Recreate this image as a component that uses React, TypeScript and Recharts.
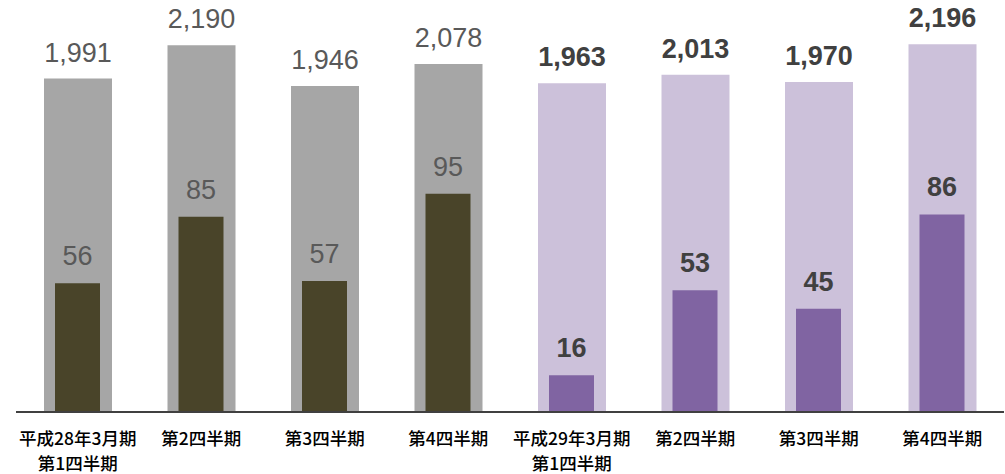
import React from "react";
import { BarChart, Bar, XAxis, YAxis, Cell, LabelList } from "recharts";

const categories = [
  "平成28年3月期\n第1四半期",
  "第2四半期",
  "第3四半期",
  "第4四半期",
  "平成29年3月期\n第1四半期",
  "第2四半期",
  "第3四半期",
  "第4四半期",
];
const totalValues = [1991, 2190, 1946, 2078, 1963, 2013, 1970, 2196];
const subValues = [56, 85, 57, 95, 16, 53, 45, 86];
const isCurrentYear = [false, false, false, false, true, true, true, true];

const data = categories.map((c, i) => ({
  key: String(i),
  label: c,
  total: totalValues[i],
  sub: subValues[i],
}));

const fmt = (v: number) => v.toLocaleString("en-US");

const makeLabel = (gap: number) => (props: any) => {
  const { x, y, width, value, index } = props;
  const cur = isCurrentYear[index];
  return (
    <text
      x={x + width / 2}
      y={y - gap}
      textAnchor="middle"
      fontFamily="'Liberation Sans', Arial, sans-serif"
      fontSize={27}
      fontWeight={cur ? 700 : 400}
      fill={cur ? "#404040" : "#595959"}
    >
      {fmt(value)}
    </text>
  );
};

const Tick = (props: any) => {
  const { x, y, payload } = props;
  const idx = Number(payload.value);
  const lines = categories[idx].split("\n");
  return (
    <g>
      {lines.map((l, i) => (
        <text
          key={i}
          x={x}
          y={y + 25 + i * 25}
          textAnchor="middle"
          fontFamily="'Noto Sans CJK JP', sans-serif"
          fontSize={17.5}
          fontWeight={500}
          fill="#000000"
        >
          {l}
        </text>
      ))}
    </g>
  );
};

export default function App() {
  return (
    <div style={{ position: "absolute", left: 0, top: 0 }}>
      <BarChart
        width={1005}
        height={474}
        data={data}
        margin={{ top: 10, right: 1, left: 16, bottom: 0 }}
      >
        <XAxis
          xAxisId="a"
          dataKey="key"
          height={62}
          tickLine={false}
          axisLine={{ stroke: "#404040", strokeWidth: 2 }}
          tick={<Tick />}
          interval={0}
        />
        <XAxis xAxisId="b" dataKey="key" hide />
        <YAxis yAxisId="left" domain={[0, 2400]} hide />
        <YAxis yAxisId="right" domain={[0, 175]} hide />
        <Bar
          xAxisId="a"
          yAxisId="left"
          dataKey="total"
          barSize={68}
          isAnimationActive={false}
        >
          {data.map((d, i) => (
            <Cell key={i} fill={isCurrentYear[i] ? "#CCC1DA" : "#A6A6A6"} />
          ))}
          <LabelList dataKey="total" content={makeLabel(17)} />
        </Bar>
        <Bar
          xAxisId="b"
          yAxisId="right"
          dataKey="sub"
          barSize={45}
          isAnimationActive={false}
        >
          {data.map((d, i) => (
            <Cell key={i} fill={isCurrentYear[i] ? "#8064A2" : "#494429"} />
          ))}
          <LabelList dataKey="sub" content={makeLabel(18)} />
        </Bar>
      </BarChart>
    </div>
  );
}
